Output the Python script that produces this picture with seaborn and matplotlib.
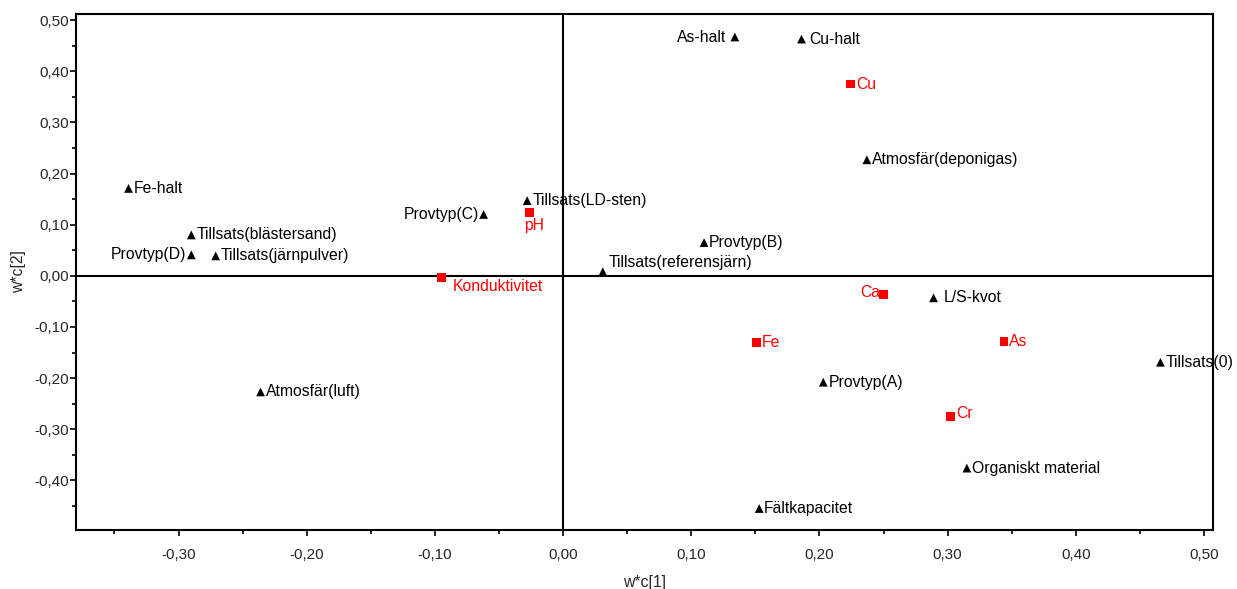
import matplotlib
matplotlib.use("Agg")
import matplotlib.pyplot as plt
import seaborn as sns
import pandas as pd
from matplotlib.ticker import MultipleLocator, FuncFormatter

# Loadings: X-variables (black triangles)
x_names = ["Fe-halt", "Tillsats(blästersand)", "Provtyp(D)", "Tillsats(järnpulver)",
           "Provtyp(C)", "Tillsats(LD-sten)", "Tillsats(referensjärn)", "Provtyp(B)",
           "As-halt", "Cu-halt", "Atmosfär(deponigas)", "L/S-kvot", "Tillsats(0)",
           "Provtyp(A)", "Atmosfär(luft)", "Organiskt material", "Fältkapacitet"]
x_c1 = [-0.339, -0.290, -0.290, -0.271, -0.062, -0.028, 0.031, 0.110,
        0.134, 0.186, 0.237, 0.289, 0.466, 0.203, -0.236, 0.315, 0.153]
x_c2 = [0.171, 0.080, 0.041, 0.039, 0.120, 0.147, 0.008, 0.065,
        0.467, 0.463, 0.227, -0.043, -0.169, -0.208, -0.227, -0.376, -0.455]

# Loadings: Y-variables (red squares)
y_names = ["pH", "Konduktivitet", "Cu", "Ca", "Fe", "As", "Cr"]
y_c1 = [-0.026, -0.095, 0.2245, 0.250, 0.151, 0.344, 0.302]
y_c2 = [0.124, -0.004, 0.375, -0.037, -0.131, -0.129, -0.275]

df = pd.DataFrame({
    "name": x_names + y_names,
    "c1": x_c1 + y_c1,
    "c2": x_c2 + y_c2,
    "grp": ["X"] * len(x_names) + ["Y"] * len(y_names),
})

sns.set_style("white")
plt.rcParams["font.family"] = ["Liberation Sans", "DejaVu Sans"]

fig = plt.figure(figsize=(12.37, 5.89), dpi=100)
ax = fig.add_axes([0.0614, 0.1002, 0.9192, 0.876])

ax.axhline(0, color="black", lw=1.5, zorder=1)
ax.axvline(0, color="black", lw=1.5, zorder=1)

sns.scatterplot(data=df, x="c1", y="c2", hue="grp", style="grp",
                palette={"X": "black", "Y": "#ff0000"},
                markers={"X": "^", "Y": "s"}, s=40, linewidth=0,
                legend=False, ax=ax, zorder=3)

# label offsets in pixels (dx, dy, ha)
offsets = {
    "Provtyp(D)": (-5, 0, "right"),
    "Provtyp(C)": (-5, 0, "right"),
    "As-halt": (-9, 0, "right"),
    "Cu-halt": (8, 0, "left"),
    "pH": (-6, -13, "left"),
    "Konduktivitet": (11, -9, "left"),
    "Tillsats(referensjärn)": (6, 9, "left"),
    "Ca": (-3, 2, "right"),
    "L/S-kvot": (10, 0, "left"),
    "Cr": (6, 3, "left"),
}
for _, r in df.iterrows():
    dx, dy, ha = offsets.get(r["name"], (5, 0, "left"))
    color = "black" if r["grp"] == "X" else "#ff0000"
    ax.annotate(r["name"], (r["c1"], r["c2"]), xytext=(dx, dy),
                textcoords="offset pixels", ha=ha, va="center",
                fontsize=11.3, color=color, zorder=4)

ax.set_xlim(-0.38, 0.507)
ax.set_ylim(-0.497, 0.512)
ax.xaxis.set_major_locator(MultipleLocator(0.1))
ax.xaxis.set_minor_locator(MultipleLocator(0.05))
ax.yaxis.set_major_locator(MultipleLocator(0.1))
ax.yaxis.set_minor_locator(MultipleLocator(0.05))
fmt = FuncFormatter(lambda v, p: f"{v:.2f}".replace(".", ",").replace("-0,00", "0,00"))
ax.xaxis.set_major_formatter(fmt)
ax.yaxis.set_major_formatter(fmt)
ax.tick_params(which="major", direction="out", length=4, width=1.2,
               labelsize=11, color="black", left=True, bottom=True, pad=9)
ax.tick_params(which="minor", direction="out", length=3, width=1.2,
               color="black", left=True, bottom=True)
ax.tick_params(axis="y", pad=1)

for s in ax.spines.values():
    s.set_color("black")
    s.set_linewidth(1.5)

ax.set_xlabel("w*c[1]", fontsize=11.3, labelpad=9)
ax.set_ylabel("w*c[2]", fontsize=11.3, labelpad=6)

fig.savefig("out.png", dpi=100)
